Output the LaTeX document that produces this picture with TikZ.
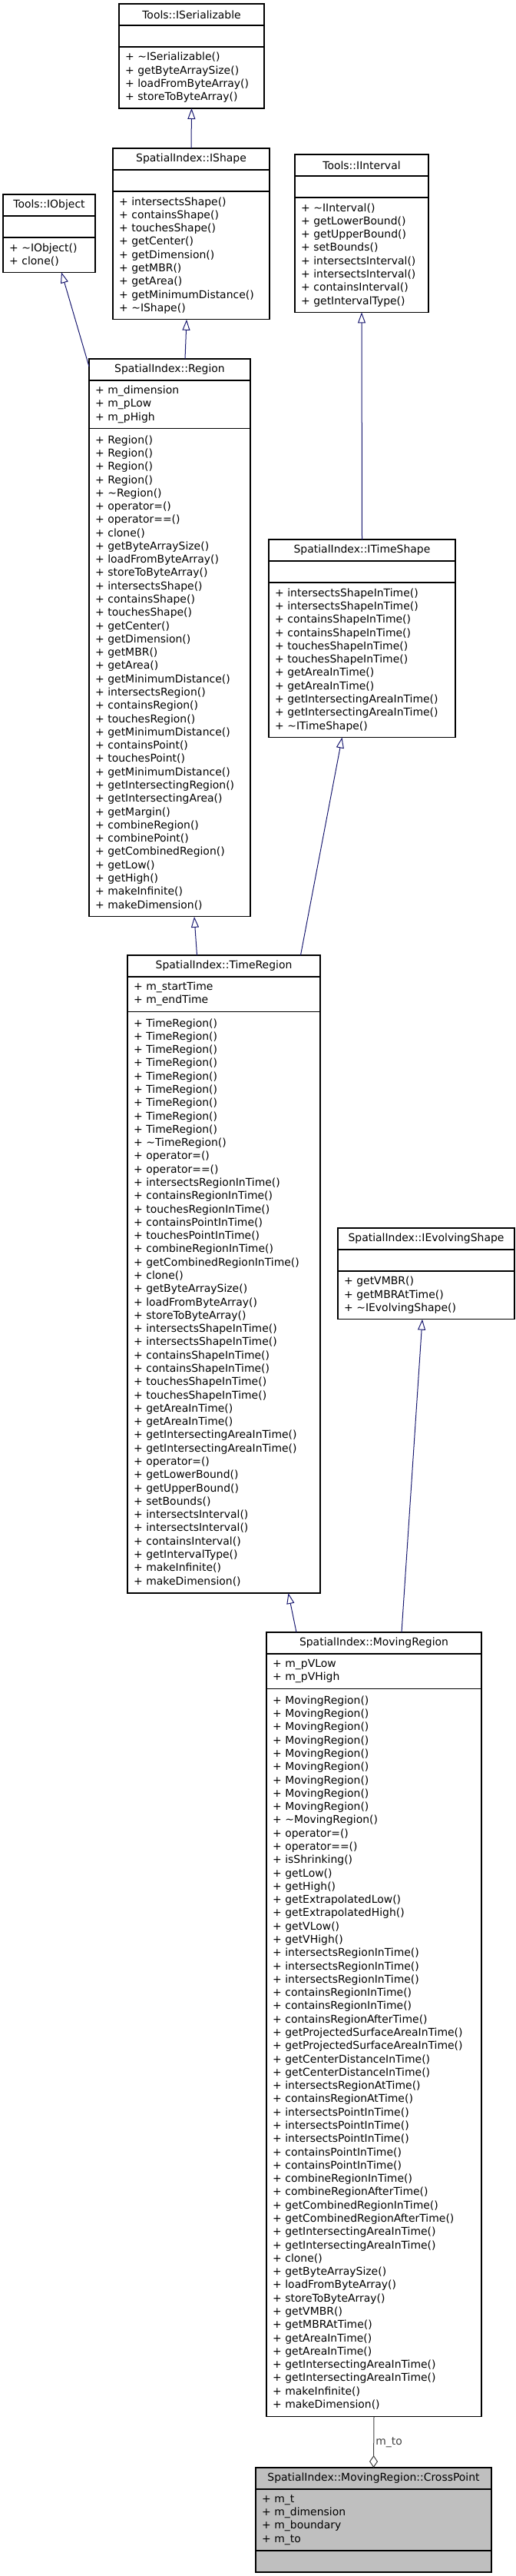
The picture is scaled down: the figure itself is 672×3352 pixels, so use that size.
\documentclass[tikz,border=0pt]{standalone}
\usepackage{fontspec}
\setmainfont{DejaVu Sans}
\usetikzlibrary{arrows.meta,positioning}
\definecolor{inhblue}{HTML}{191970}
\definecolor{aggrgray}{HTML}{404040}
\definecolor{cpfill}{HTML}{BFBFBF}
\newcommand{\umlfont}{\fontsize{14}{17.35}\selectfont}
\newcommand{\dtor}{\textasciitilde}
\tikzset{
  ttl/.style  ={draw, line width=1.2bp, minimum height=28bp, inner sep=0pt,
                outer sep=0pt, font=\umlfont},
  cmp/.style  ={draw, line width=1.2bp, inner sep=0pt, outer sep=0pt},
  ops/.style  ={draw, line width=1.2bp, inner xsep=8bp, inner ysep=1bp,
                outer sep=0pt, align=left, font=\umlfont},
  inh/.style  ={-{Triangle[open, length=14bp, width=10bp]}, line width=1bp,
                inhblue},
  aggr/.style ={{Diamond[open, length=16bp, width=11bp]}-, line width=1bp,
                aggrgray},
  elbl/.style ={font=\umlfont, inner sep=2bp},
}

\begin{document}
\begin{tikzpicture}[x=1bp, y=-1bp]
  \useasboundingbox (0,0) rectangle (672,3352);
  % ---- Tools::ISerializable
  \node[ttl, minimum width=189bp, anchor=north west] (serT) at (155,5) {Tools::ISerializable};
  \node[cmp, minimum width=189bp, minimum height=28bp, below=0pt of serT] (serA) {};
  \node[ops, text width=173bp, minimum height=80bp, below=0pt of serA] (serM)
    {+ \dtor ISerializable()\\+ getByteArraySize()\\+ loadFromByteArray()\\+ storeToByteArray()};
  % ---- SpatialIndex::IShape
  \node[ttl, minimum width=204bp, anchor=north west] (shpT) at (147,193) {SpatialIndex::IShape};
  \node[cmp, minimum width=204bp, minimum height=28bp, below=0pt of shpT] (shpA) {};
  \node[ops, text width=188bp, minimum height=166.8bp, below=0pt of shpA] (shpM)
    {+ intersectsShape()\\+ containsShape()\\+ touchesShape()\\+ getCenter()\\
     + getDimension()\\+ getMBR()\\+ getArea()\\+ getMinimumDistance()\\+ \dtor IShape()};
  % ---- Tools::IInterval
  \node[ttl, minimum width=174bp, anchor=north west] (ivlT) at (384,201) {Tools::IInterval};
  \node[cmp, minimum width=174bp, minimum height=28bp, below=0pt of ivlT] (ivlA) {};
  \node[ops, text width=158bp, minimum height=149.4bp, below=0pt of ivlA] (ivlM)
    {+ \dtor IInterval()\\+ getLowerBound()\\+ getUpperBound()\\+ setBounds()\\
     + intersectsInterval()\\+ intersectsInterval()\\+ containsInterval()\\+ getIntervalType()};
  % ---- Tools::IObject
  \node[ttl, minimum width=120bp, anchor=north west] (objT) at (4,253) {Tools::IObject};
  \node[cmp, minimum width=120bp, minimum height=28bp, below=0pt of objT] (objA) {};
  \node[ops, text width=104bp, minimum height=45.3bp, below=0pt of objA] (objM)
    {+ \dtor IObject()\\+ clone()};
  % ---- SpatialIndex::Region
  \node[ttl, minimum width=210bp, anchor=north west] (regT) at (116,467) {SpatialIndex::Region};
  \node[ops, text width=194bp, minimum height=62.65bp, below=0pt of regT] (regA)
    {+ m\_dimension\\+ m\_pLow\\+ m\_pHigh};
  \node[ops, text width=194bp, minimum height=635.2bp, below=0pt of regA] (regM)
    {+ Region()\\+ Region()\\+ Region()\\+ Region()\\+ \dtor Region()\\
     + operator=()\\+ operator==()\\+ clone()\\+ getByteArraySize()\\
     + loadFromByteArray()\\+ storeToByteArray()\\+ intersectsShape()\\
     + containsShape()\\+ touchesShape()\\+ getCenter()\\+ getDimension()\\
     + getMBR()\\+ getArea()\\+ getMinimumDistance()\\+ intersectsRegion()\\
     + containsRegion()\\+ touchesRegion()\\+ getMinimumDistance()\\
     + containsPoint()\\+ touchesPoint()\\+ getMinimumDistance()\\
     + getIntersectingRegion()\\+ getIntersectingArea()\\+ getMargin()\\
     + combineRegion()\\+ combinePoint()\\+ getCombinedRegion()\\+ getLow()\\
     + getHigh()\\+ makeInfinite()\\+ makeDimension()};
  % ---- SpatialIndex::ITimeShape
  \node[ttl, minimum width=243bp, anchor=north west] (itsT) at (350,702) {SpatialIndex::ITimeShape};
  \node[cmp, minimum width=243bp, minimum height=28bp, below=0pt of itsT] (itsA) {};
  \node[ops, text width=227bp, minimum height=201.5bp, below=0pt of itsA] (itsM)
    {+ intersectsShapeInTime()\\+ intersectsShapeInTime()\\+ containsShapeInTime()\\
     + containsShapeInTime()\\+ touchesShapeInTime()\\+ touchesShapeInTime()\\
     + getAreaInTime()\\+ getAreaInTime()\\+ getIntersectingAreaInTime()\\
     + getIntersectingAreaInTime()\\+ \dtor ITimeShape()};
  % ---- SpatialIndex::TimeRegion
  \node[ttl, minimum width=251bp, anchor=north west] (trgT) at (166,1243) {SpatialIndex::TimeRegion};
  \node[ops, text width=235bp, minimum height=45.3bp, below=0pt of trgT] (trgA)
    {+ m\_startTime\\+ m\_endTime};
  \node[ops, text width=235bp, minimum height=756.7bp, below=0pt of trgA] (trgM)
    {+ TimeRegion()\\+ TimeRegion()\\+ TimeRegion()\\+ TimeRegion()\\+ TimeRegion()\\
     + TimeRegion()\\+ TimeRegion()\\+ TimeRegion()\\+ TimeRegion()\\+ \dtor TimeRegion()\\
     + operator=()\\+ operator==()\\+ intersectsRegionInTime()\\+ containsRegionInTime()\\
     + touchesRegionInTime()\\+ containsPointInTime()\\+ touchesPointInTime()\\
     + combineRegionInTime()\\+ getCombinedRegionInTime()\\+ clone()\\
     + getByteArraySize()\\+ loadFromByteArray()\\+ storeToByteArray()\\
     + intersectsShapeInTime()\\+ intersectsShapeInTime()\\+ containsShapeInTime()\\
     + containsShapeInTime()\\+ touchesShapeInTime()\\+ touchesShapeInTime()\\
     + getAreaInTime()\\+ getAreaInTime()\\+ getIntersectingAreaInTime()\\
     + getIntersectingAreaInTime()\\+ operator=()\\+ getLowerBound()\\
     + getUpperBound()\\+ setBounds()\\+ intersectsInterval()\\+ intersectsInterval()\\
     + containsInterval()\\+ getIntervalType()\\+ makeInfinite()\\+ makeDimension()};
  % ---- SpatialIndex::IEvolvingShape
  \node[ttl, minimum width=230bp, anchor=north west] (evsT) at (440,1598) {SpatialIndex::IEvolvingShape};
  \node[cmp, minimum width=230bp, minimum height=28bp, below=0pt of evsT] (evsA) {};
  \node[ops, text width=214bp, minimum height=62.65bp, below=0pt of evsA] (evsM)
    {+ getVMBR()\\+ getMBRAtTime()\\+ \dtor IEvolvingShape()};
  % ---- SpatialIndex::MovingRegion
  \node[ttl, minimum width=280bp, anchor=north west] (mrgT) at (347,2124) {SpatialIndex::MovingRegion};
  \node[ops, text width=264bp, minimum height=45.3bp, below=0pt of mrgT] (mrgA)
    {+ m\_pVLow\\+ m\_pVHigh};
  \node[ops, text width=264bp, minimum height=947.5bp, below=0pt of mrgA] (mrgM)
    {+ MovingRegion()\\+ MovingRegion()\\+ MovingRegion()\\+ MovingRegion()\\
     + MovingRegion()\\+ MovingRegion()\\+ MovingRegion()\\+ MovingRegion()\\
     + MovingRegion()\\+ \dtor MovingRegion()\\+ operator=()\\+ operator==()\\
     + isShrinking()\\+ getLow()\\+ getHigh()\\+ getExtrapolatedLow()\\
     + getExtrapolatedHigh()\\+ getVLow()\\+ getVHigh()\\+ intersectsRegionInTime()\\
     + intersectsRegionInTime()\\+ intersectsRegionInTime()\\+ containsRegionInTime()\\
     + containsRegionInTime()\\+ containsRegionAfterTime()\\
     + getProjectedSurfaceAreaInTime()\\+ getProjectedSurfaceAreaInTime()\\
     + getCenterDistanceInTime()\\+ getCenterDistanceInTime()\\
     + intersectsRegionAtTime()\\+ containsRegionAtTime()\\+ intersectsPointInTime()\\
     + intersectsPointInTime()\\+ intersectsPointInTime()\\+ containsPointInTime()\\
     + containsPointInTime()\\+ combineRegionInTime()\\+ combineRegionAfterTime()\\
     + getCombinedRegionInTime()\\+ getCombinedRegionAfterTime()\\
     + getIntersectingAreaInTime()\\+ getIntersectingAreaInTime()\\+ clone()\\
     + getByteArraySize()\\+ loadFromByteArray()\\+ storeToByteArray()\\+ getVMBR()\\
     + getMBRAtTime()\\+ getAreaInTime()\\+ getAreaInTime()\\
     + getIntersectingAreaInTime()\\+ getIntersectingAreaInTime()\\+ makeInfinite()\\
     + makeDimension()};
  % ---- SpatialIndex::MovingRegion::CrossPoint
  \node[ttl, fill=cpfill, minimum width=307bp, anchor=north west] (crpT) at (333,3211)
    {SpatialIndex::MovingRegion::CrossPoint};
  \node[ops, fill=cpfill, text width=291bp, minimum height=80bp, below=0pt of crpT] (crpA)
    {+ m\_t\\+ m\_dimension\\+ m\_boundary\\+ m\_to};
  \node[cmp, fill=cpfill, minimum width=307bp, minimum height=28bp, below=0pt of crpA] (crpM) {};
  % ---- relations
  \draw[inh] (shpT.north) -- (serM.south);
  \draw[inh] ([yshift=-10bp]regT.north west) -- ([xshift=16bp]objM.south);
  \draw[inh] ([xshift=20bp]regT.north) -- ([xshift=-6bp]shpM.south);
  \draw[inh] (itsT.north) -- (ivlM.south);
  \draw[inh] ([xshift=-35bp]trgT.north) -- ([xshift=32bp]regM.south);
  \draw[inh] ([xshift=100bp]trgT.north) -- ([xshift=-26bp]itsM.south);
  \draw[inh] ([xshift=-101bp]mrgT.north) -- ([xshift=84bp]trgM.south);
  \draw[inh] ([xshift=36bp]mrgT.north) -- ([xshift=-5bp]evsM.south);
  \draw[aggr] (crpT.north) -- (mrgM.south) node[elbl, midway, right] {m\_to};
\end{tikzpicture}
\end{document}
